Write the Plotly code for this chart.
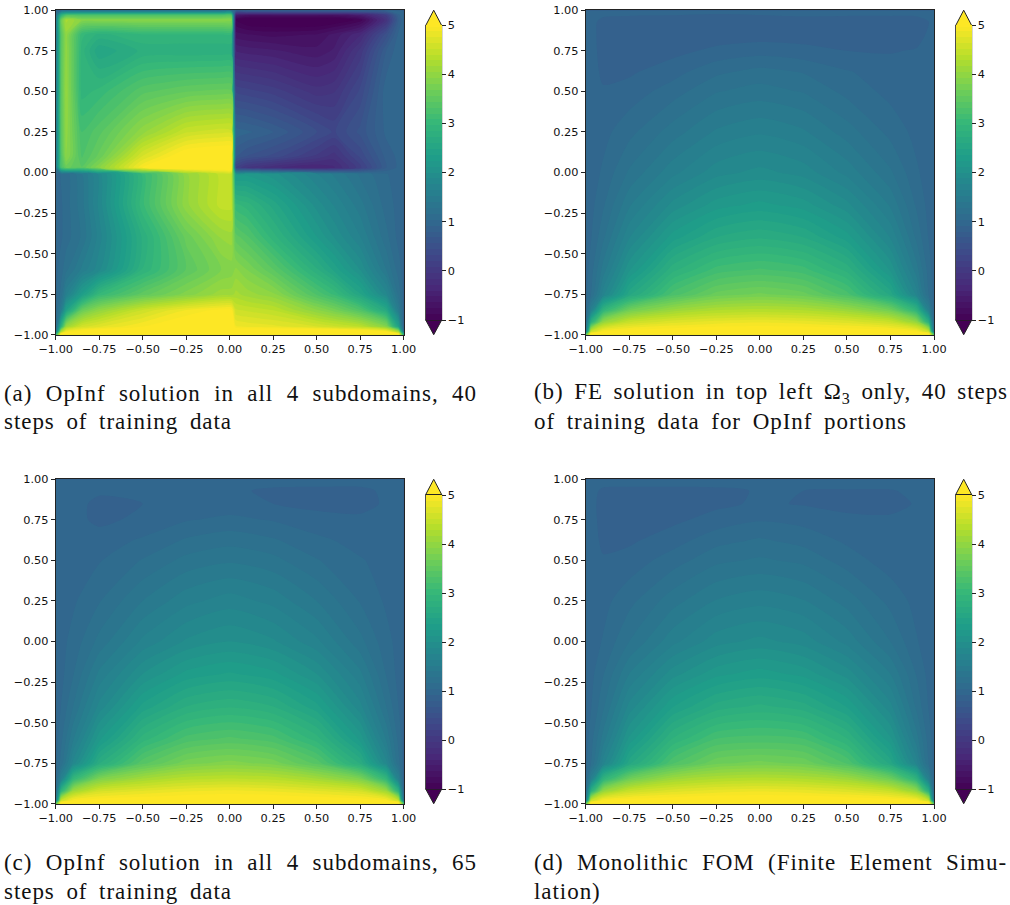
import plotly.graph_objects as go

W, H = 1010, 905
TICKS = [-1, -0.75, -0.5, -0.25, 0, 0.25, 0.5, 0.75, 1]
TICK_TEXT = ["\u22121.00", "\u22120.75", "\u22120.50", "\u22120.25", "0.00", "0.25", "0.50", "0.75", "1.00"]
CB_TICKS = [-1, 0, 1, 2, 3, 4, 5]
CB_TEXT = ["\u22121", "0", "1", "2", "3", "4", "5"]

X_A = [-1, -.97, -.94, -.85, -.75, -.5, -.25, -.05, .01, .035, .1, .25, .5, .6, .75, .9, .97, 1]
Y_A = [-1, -.98, -.95, -.85, -.75, -.6, -.4, -.2, -.01, .03, .1, .25, .5, .75, .85, .94, .97, 1]
Z_A = [
    [3, 5.3, 5.3, 5.3, 5.3, 5.3, 5.3, 5.3, 5.3, 5.3, 5.3, 5.3, 5.3, 5.3, 5.3, 5.3, 5.3, 3],
    [1.2, 4.2, 4.9, 5.1, 5.2, 5.3, 5.3, 5.3, 5.3, 5.3, 5.3, 5.3, 5.3, 5.3, 5.2, 5.0, 4.2, 1.2],
    [1.0, 2.8, 4.1, 4.6, 4.75, 5.0, 5.2, 5.25, 5.25, 4.9, 4.85, 4.8, 4.65, 4.55, 4.4, 3.9, 2.4, 1.0],
    [1.0, 1.5, 2.4, 3.6, 4.0, 4.55, 4.9, 5.05, 5.05, 4.55, 4.5, 4.4, 3.95, 3.75, 3.35, 2.6, 1.5, 1.0],
    [1.0, 1.2, 1.6, 2.3, 3.0, 3.5, 3.85, 4.1, 4.1, 4.2, 4.1, 3.95, 3.3, 3.05, 2.5, 1.8, 1.25, 1.0],
    [1.0, 1.1, 1.25, 1.55, 1.85, 2.85, 3.45, 3.8, 3.85, 3.95, 3.8, 3.45, 2.75, 2.45, 2.0, 1.4, 1.1, .98],
    [1.0, 1.02, 1.1, 1.3, 1.7, 2.75, 3.6, 4.05, 4.1, 3.5, 3.35, 2.9, 2.25, 2.0, 1.65, 1.2, 1.0, .95],
    [1.0, 1.02, 1.1, 1.35, 1.8, 3.05, 4.0, 4.45, 4.45, 3.0, 2.9, 2.55, 1.95, 1.75, 1.45, 1.1, 1.0, .95],
    [1.0, 1.05, 1.1, 1.4, 1.8, 3.0, 4.0, 4.45, 4.45, 2.2, 2.2, 2.05, 1.65, 1.5, 1.25, 1.05, .97, .95],
    [1.3, 3.2, 3.6, 3.45, 3.9, 5.0, 5.3, 5.3, 5.3, .2, -.05, -.25, -.4, -.3, .15, .8, .95, 1],
    [1.3, 3.3, 3.95, 3.3, 3.6, 4.65, 5.2, 5.3, 5.3, .7, .55, .4, .05, -.1, .35, .85, .95, 1],
    [1.3, 3.4, 4.0, 3.2, 3.4, 4.0, 4.5, 4.6, 4.6, 1.0, .95, .8, .45, .3, .6, .95, .95, 1],
    [1.3, 3.4, 4.05, 2.9, 3.0, 3.4, 3.55, 3.6, 3.6, .3, .25, .15, -.1, -.05, .35, 1.0, .95, 1],
    [1.3, 3.4, 4.0, 2.9, 2.5, 2.75, 2.75, 2.75, 2.75, -.4, -.45, -.5, -.6, -.5, 0, .8, 1.0, 1],
    [1.3, 3.4, 4.0, 3.0, 2.8, 2.95, 2.95, 2.95, 2.95, -.7, -.75, -.8, -.75, -.6, -.3, .5, .95, 1],
    [1.3, 3.6, 4.2, 3.9, 3.9, 3.9, 3.9, 3.9, 3.9, -1.0, -1.15, -1.2, -1.2, -1.15, -.95, -.1, .8, 1],
    [1.2, 2.8, 3.3, 3.3, 3.3, 3.3, 3.3, 3.3, 3.3, -.5, -.7, -.7, -.7, -.7, -.5, .1, .9, 1],
    [1.1, 1.1, 1.1, 1.1, 1.1, 1.1, 1.1, 1.1, 1.1, 1.0, 1.0, 1.0, 1.0, 1.0, 1.0, 1.0, 1.0, 1.0],
]

X_S = [-1, -.97, -.9, -.75, -.5, -.25, 0, .25, .5, .75, .9, .97, 1]
Y_S = [-1, -.98, -.92, -.85, -.75, -.6, -.4, -.2, 0, .25, .5, .62, .75, .85, .93, 1]

Z_B = [
    [3.5, 5.3, 5.3, 5.3, 5.3, 5.3, 5.3, 5.3, 5.3, 5.3, 5.3, 5.3, 3.5],
    [1.3, 4.5, 5.0, 5.1, 5.15, 5.2, 5.2, 5.2, 5.15, 5.1, 5.0, 4.5, 1.3],
    [1.02, 2.7, 4.0, 4.5, 4.7, 4.8, 4.85, 4.8, 4.7, 4.5, 4.0, 2.7, 1.02],
    [1, 1.6, 2.9, 3.7, 4.1, 4.28, 4.33, 4.28, 4.1, 3.7, 2.9, 1.6, 1],
    [1, 1.15, 1.7, 2.55, 3.25, 3.6, 3.7, 3.6, 3.25, 2.55, 1.7, 1.15, 1],
    [.98, 1.1, 1.45, 2.1, 2.8, 3.13, 3.22, 3.13, 2.8, 2.1, 1.45, 1.1, .98],
    [.96, 1.03, 1.25, 1.75, 2.3, 2.6, 2.7, 2.6, 2.3, 1.75, 1.25, 1.03, .96],
    [.95, 1.0, 1.14, 1.5, 1.92, 2.18, 2.28, 2.18, 1.92, 1.5, 1.14, 1, .95],
    [.95, .98, 1.06, 1.3, 1.6, 1.83, 1.92, 1.83, 1.6, 1.3, 1.06, .98, .95],
    [.95, .97, 1.0, 1.12, 1.34, 1.54, 1.62, 1.54, 1.34, 1.12, 1, .97, .95],
    [.97, .96, .93, .97, 1.1, 1.27, 1.33, 1.27, 1.12, 1.0, .97, .97, .98],
    [.98, .96, .9, .9, .99, 1.13, 1.2, 1.15, 1.05, .98, .95, .97, .98],
    [1, .96, .88, .85, .88, .95, .99, .96, .92, .91, .93, .96, 1],
    [1, .96, .87, .85, .85, .85, .86, .86, .85, .85, .87, .94, 1],
    [1, .97, .87, .86, .86, .86, .88, .87, .86, .86, .87, .92, 1],
    [1, 1, 1, .98, .97, .95, .95, .98, .98, .98, .98, 1, 1],
]

Z_C = [
    [3.5, 5.3, 5.3, 5.3, 5.3, 5.3, 5.3, 5.3, 5.3, 5.3, 5.3, 5.3, 3.5],
    [1.3, 4.5, 5.0, 5.1, 5.15, 5.2, 5.2, 5.2, 5.15, 5.1, 5.0, 4.5, 1.3],
    [1.02, 2.8, 4.1, 4.6, 4.75, 4.85, 4.9, 4.85, 4.75, 4.6, 4.1, 2.8, 1.02],
    [1, 1.65, 3.0, 3.85, 4.2, 4.38, 4.43, 4.38, 4.2, 3.85, 3.0, 1.65, 1],
    [1, 1.2, 1.8, 2.7, 3.4, 3.75, 3.85, 3.75, 3.4, 2.7, 1.8, 1.2, 1],
    [.98, 1.12, 1.5, 2.2, 2.9, 3.25, 3.35, 3.25, 2.9, 2.2, 1.5, 1.12, .98],
    [.96, 1.04, 1.28, 1.8, 2.4, 2.72, 2.82, 2.72, 2.4, 1.8, 1.28, 1.04, .96],
    [.95, 1.0, 1.15, 1.55, 2.0, 2.28, 2.38, 2.28, 2.0, 1.55, 1.15, 1, .95],
    [.95, 1.0, 1.08, 1.32, 1.67, 1.9, 2.0, 1.9, 1.67, 1.32, 1.08, 1, .95],
    [.97, .98, 1.02, 1.15, 1.4, 1.6, 1.7, 1.6, 1.4, 1.15, 1.02, .98, .97],
    [.98, .98, .97, 1.03, 1.17, 1.32, 1.38, 1.32, 1.17, 1.05, 1.0, .98, .98],
    [.99, .98, .96, .98, 1.06, 1.18, 1.24, 1.18, 1.07, 1.0, .98, .98, .99],
    [1, .98, .96, .89, .95, 1.03, 1.07, 1.03, .97, .95, .96, .98, 1],
    [1, .98, .96, .89, .92, .97, .97, .92, .88, .87, .94, .98, 1],
    [1, .99, .97, .94, .96, .97, .95, .89, .88, .88, .95, .98, 1],
    [1, 1, 1, 1, 1, 1, 1, 1, 1, 1, 1, 1, 1],
]

Z_D = [
    [3.5, 5.3, 5.3, 5.3, 5.3, 5.3, 5.3, 5.3, 5.3, 5.3, 5.3, 5.3, 3.5],
    [1.3, 4.5, 5.0, 5.1, 5.15, 5.2, 5.2, 5.2, 5.15, 5.1, 5.0, 4.5, 1.3],
    [1.02, 2.7, 4.0, 4.5, 4.7, 4.8, 4.85, 4.8, 4.7, 4.5, 4.0, 2.7, 1.02],
    [1, 1.6, 2.9, 3.7, 4.15, 4.3, 4.35, 4.3, 4.15, 3.7, 2.9, 1.6, 1],
    [1, 1.15, 1.7, 2.55, 3.3, 3.65, 3.72, 3.65, 3.3, 2.55, 1.7, 1.15, 1],
    [.98, 1.1, 1.45, 2.15, 2.85, 3.2, 3.25, 3.2, 2.85, 2.15, 1.45, 1.1, .98],
    [.96, 1.03, 1.25, 1.8, 2.35, 2.65, 2.75, 2.65, 2.35, 1.8, 1.25, 1.03, .96],
    [.95, 1.0, 1.15, 1.52, 1.95, 2.2, 2.3, 2.2, 1.95, 1.52, 1.15, 1, .95],
    [.95, .98, 1.05, 1.28, 1.6, 1.83, 1.92, 1.83, 1.6, 1.28, 1.05, .98, .95],
    [.95, .97, 1.0, 1.12, 1.35, 1.53, 1.6, 1.53, 1.35, 1.12, 1, .97, .95],
    [.97, .96, .93, .97, 1.1, 1.25, 1.3, 1.25, 1.1, .98, .96, .97, .98],
    [.98, .96, .9, .9, .99, 1.12, 1.18, 1.12, 1.02, .96, .95, .97, .98],
    [1, .96, .88, .85, .89, .97, 1.03, 1.0, .95, .94, .94, .97, 1],
    [1, .96, .87, .85, .86, .89, .94, .91, .88, .88, .93, .97, 1],
    [1, .97, .89, .88, .88, .89, .93, .92, .91, .91, .95, .98, 1],
    [1, 1, 1, 1, 1, 1, 1, 1, 1, 1, 1, 1, 1],
]

CAPTIONS = [
    ["(a) OpInf solution in all 4 subdomains, 40", "steps of training data"],
    ["(b) FE solution in top left \u03a9<sub>3</sub> only, 40 steps", "of training data for OpInf portions"],
    ["(c) OpInf solution in all 4 subdomains, 65", "steps of training data"],
    ["(d) Monolithic FOM (Finite Element Simu-", "lation)"],
]
CAPTION_WIDTHS = [473, 228, 474, 373, 473, 228, 473, 69]

# layout in pixels: (left, right, top, bottom), colour bar left, caption left, caption line centres
PANELS = [
    (55.7, 403.7, 10.2, 334.7, 425.7, 2, 393, 422, X_A, Y_A, Z_A),
    (585.7, 934.0, 10.2, 334.7, 955.7, 532, 393, 422, X_S, Y_S, Z_B),
    (55.7, 403.7, 479.3, 803.7, 425.7, 2, 862, 891, X_S, Y_S, Z_C),
    (585.7, 934.0, 479.3, 803.7, 955.7, 532, 862, 891, X_S, Y_S, Z_D),
]
TICK_FONT = dict(family="DejaVu Sans", size=11.3, color="#111111")
CAP_FONT = dict(family="Liberation Serif", size=23, color="#111111")

fig = go.Figure()
shapes, annos = [], []
for i, (l, r, t, b, cb, cx, y1, y2, xs, ys, zs) in enumerate(PANELS):
    n = "" if i == 0 else str(i + 1)
    cb_top, cb_bot = t + 15.3, b - 14.7
    fig.add_trace(go.Contour(
        x=xs, y=ys, z=zs, xaxis="x" + n, yaxis="y" + n,
        colorscale="Viridis", zmin=-1, zmax=5, autocontour=False,
        contours=dict(start=-1, end=5, size=0.12, coloring="fill", showlines=False),
        line=dict(width=0, smoothing=0.7), hoverinfo="skip",
        colorbar=dict(
            x=cb / W, xanchor="left", xpad=0, y=1 - cb_bot / H, yanchor="bottom", ypad=0,
            lenmode="pixels", len=cb_bot - cb_top, thicknessmode="pixels", thickness=16,
            tickmode="array", tickvals=CB_TICKS, ticktext=CB_TEXT, ticks="outside", ticklen=4,
            tickwidth=1, tickcolor="#222222", tickfont=TICK_FONT, outlinewidth=0,
        ),
    ))
    axis = dict(range=[-1, 1], tickmode="array", tickvals=TICKS, ticktext=TICK_TEXT, ticks="outside",
                ticklen=4, tickwidth=1, tickcolor="#222222", tickfont=TICK_FONT, showline=True,
                linecolor="#222222", linewidth=1, mirror=True, showgrid=False, zeroline=False, tickangle=0)
    fig.update_layout(**{
        "xaxis" + n: dict(axis, domain=[l / W, r / W], anchor="y" + n),
        "yaxis" + n: dict(axis, domain=[1 - b / H, 1 - t / H], anchor="x" + n),
    })
    # matplotlib-style "extend" arrows above and below the colour bar, with its outline
    px = lambda a, c: f"{a / W:.5f} {1 - c / H:.5f}"
    common = dict(type="path", xref="paper", yref="paper", line=dict(color="#222222", width=1), layer="above")
    shapes.append(dict(common, path=f"M{px(cb, cb_top)} L{px(cb + 8, t)} L{px(cb + 16, cb_top)} Z", fillcolor="#fde725"))
    shapes.append(dict(common, path=f"M{px(cb, cb_bot)} L{px(cb + 8, b)} L{px(cb + 16, cb_bot)} Z", fillcolor="#440154"))
    shapes.append(dict(type="rect", xref="paper", yref="paper", x0=cb / W, x1=(cb + 16) / W,
                       y0=1 - cb_bot / H, y1=1 - cb_top / H, line=dict(color="#222222", width=1), layer="above"))
    for text, yy in zip(CAPTIONS[i], (y1, y2)):
        annos.append(dict(text=text, xref="paper", yref="paper", x=cx / W, y=1 - yy / H, xanchor="left",
                          align="left", yanchor="middle", showarrow=False, font=CAP_FONT))

fig.update_layout(width=W, height=H, margin=dict(l=0, r=0, t=0, b=0, autoexpand=False), paper_bgcolor="white",
                  plot_bgcolor="white", showlegend=False, shapes=shapes, annotations=annos)
# typeset the caption lines to the full measure, as the justified captions are
post = """document.body.style.margin='0';
var widths = %s;
document.querySelectorAll('.annotation-text').forEach(function (t, k) {
  t.style.letterSpacing = '0.95px';
  var cur = t.getComputedTextLength();
  var gaps = (t.textContent.match(/ /g) || []).length;
  if (gaps) t.style.wordSpacing = ((widths[k] - cur) / gaps) + 'px';
});""" % CAPTION_WIDTHS
fig.write_html("out.html", post_script=post, config=dict(displayModeBar=False))
